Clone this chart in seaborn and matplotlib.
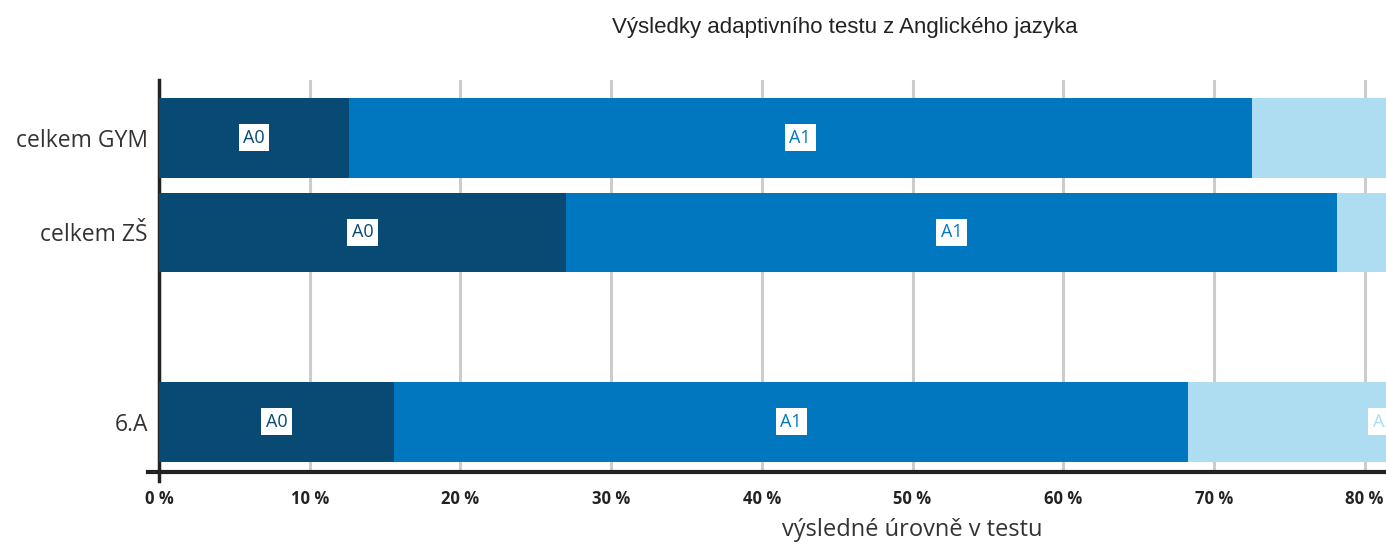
import pandas as pd
import matplotlib.pyplot as plt
import seaborn as sns

# hodnoty (v %)
tridy = ["celkem GYM", "celkem ZŠ", "6.A"]
poradi = ["celkem GYM", "celkem ZŠ", " ", "6.A"]
urovne = ["A0", "A1", "A2", "B1"]
a0 = [12.6, 27.0, 15.6]
a1 = [59.9, 51.2, 52.7]
a2 = [26.0, 16.0, 25.9]
b1 = [1.5, 5.8, 5.8]
barvy = ["#084a73", "#0077bf", "#aedcf1", "#d9ecf6"]

df = pd.DataFrame({"trida": tridy, "A0": a0, "A1": a1, "A2": a2, "B1": b1})

sns.set_style("white")
plt.rcParams["font.family"] = ["Open Sans", "DejaVu Sans"]

fig = plt.figure(figsize=(13.86, 5.5), dpi=100)
ax = fig.add_axes([159 / 1386, 78 / 550, 1507 / 1386, 392 / 550])

# skládané pruhy: kreslíme kumulativní součty od nejdelšího
kum = df[urovne].cumsum(axis=1)
for i in reversed(range(len(urovne))):
    sns.barplot(x=kum[urovne[i]], y=df["trida"], order=poradi, orient="h",
                color=barvy[i], saturation=1, width=0.84, linewidth=0,
                ax=ax, zorder=3)

for j, t in enumerate(tridy):
    y = poradi.index(t)
    start = 0
    for i, u in enumerate(urovne[:3]):
        w = df.loc[j, u]
        ax.text(start + w / 2, y, u, ha="center", va="center", fontsize=13,
                color=barvy[i], zorder=5,
                bbox=dict(boxstyle="square,pad=0.25", fc="white", ec="none"))
        start += w

ax.set_xlim(0, 100)
ax.set_ylim(3.53, -0.61)
ax.set_xticks(range(0, 101, 10))
ax.set_xticklabels([f"{v} %" for v in range(0, 101, 10)], fontsize=12,
                   fontweight="bold", color="#222222")
ax.tick_params(axis="x", length=7, width=2, color="#cccccc", pad=6)
ax.tick_params(axis="y", length=0, pad=8, labelsize=16.5, labelcolor="#333333")
ax.xaxis.grid(True, color="#cccccc", linewidth=2.2, zorder=0)
ax.set_axisbelow(True)

for s in ["top", "right"]:
    ax.spines[s].set_visible(False)
ax.spines["left"].set_color("#222222")
ax.spines["left"].set_linewidth(2.5)
ax.spines["bottom"].set_color("#222222")
ax.spines["bottom"].set_linewidth(3)
ax.spines["bottom"].set_bounds(-0.7, 100)
ax.spines["left"].set_bounds(-0.61, 3.62)

ax.set_ylabel("")
ax.set_xlabel("výsledné úrovně v testu", fontsize=17, color="#333333", labelpad=7)

fig.text(845 / 1386, 1 - 28 / 550, "Výsledky adaptivního testu z Anglického jazyka",
         ha="center", va="center", fontsize=16, color="#222222",
         family=["Liberation Sans", "DejaVu Sans"])

fig.savefig("out.png", dpi=100)
